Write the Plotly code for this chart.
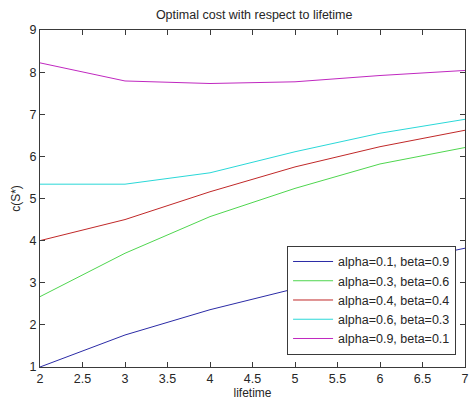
import plotly.graph_objects as go

lifetime = [2, 3, 4, 5, 6, 7]
series_names = [
    "alpha=0.1, beta=0.9",
    "alpha=0.3, beta=0.6",
    "alpha=0.4, beta=0.4",
    "alpha=0.6, beta=0.3",
    "alpha=0.9, beta=0.1",
]
cost_a01 = [1.00, 1.76, 2.36, 2.86, 3.40, 3.82]
cost_a03 = [2.67, 3.70, 4.57, 5.24, 5.82, 6.21]
cost_a04 = [4.00, 4.50, 5.16, 5.75, 6.23, 6.62]
cost_a06 = [5.34, 5.34, 5.61, 6.11, 6.55, 6.88]
cost_a09 = [8.22, 7.79, 7.73, 7.77, 7.92, 8.04]
series_values = [cost_a01, cost_a03, cost_a04, cost_a06, cost_a09]
colors = ["#2b2ba6", "#4fd64f", "#c02828", "#2ad8d8", "#c028c0"]

x_ticks = [2, 2.5, 3, 3.5, 4, 4.5, 5, 5.5, 6, 6.5, 7]
x_tick_labels = ["2", "2.5", "3", "3.5", "4", "4.5", "5", "5.5", "6", "6.5", "7"]
y_ticks = [1, 2, 3, 4, 5, 6, 7, 8, 9]

fig = go.Figure()
for name, vals, col in zip(series_names, series_values, colors):
    fig.add_trace(go.Scatter(x=lifetime, y=vals, mode="lines", name=name,
                             line=dict(color=col, width=1)))

axis_common = dict(showline=True, linecolor="#3a3a3a", linewidth=1,
                   ticks="inside", ticklen=5, tickcolor="#3a3a3a",
                   mirror="ticks", showgrid=False, zeroline=False,
                   ticklabeloverflow="allow",
                   tickfont=dict(family="Liberation Sans, Arial", size=12.5, color="#262626"))

fig.update_layout(
    width=469, height=404,
    margin=dict(l=40, r=0, t=30, b=37),
    paper_bgcolor="white", plot_bgcolor="white",
    font=dict(family="Liberation Sans, Arial", size=12, color="#262626"),
    title=dict(text="Optimal cost with respect to lifetime", x=0.542, xanchor="center",
               y=0.963, yanchor="middle", font=dict(size=12.5)),
    xaxis=dict(range=[2, 7], tickvals=x_ticks, ticktext=x_tick_labels,
               title=dict(text="lifetime", standoff=2, font=dict(size=12)), **axis_common),
    yaxis=dict(range=[1, 9], tickvals=y_ticks,
               title=dict(text="c(S*)", standoff=6, font=dict(size=12)), **axis_common),
    legend=dict(x=0.979, y=0.036, xanchor="right", yanchor="bottom",
                bgcolor="white", bordercolor="#3a3a3a", borderwidth=1,
                font=dict(size=12.5, color="#262626"), tracegroupgap=0,
                itemwidth=40),
    showlegend=True,
)

fig.write_html("out.html")
